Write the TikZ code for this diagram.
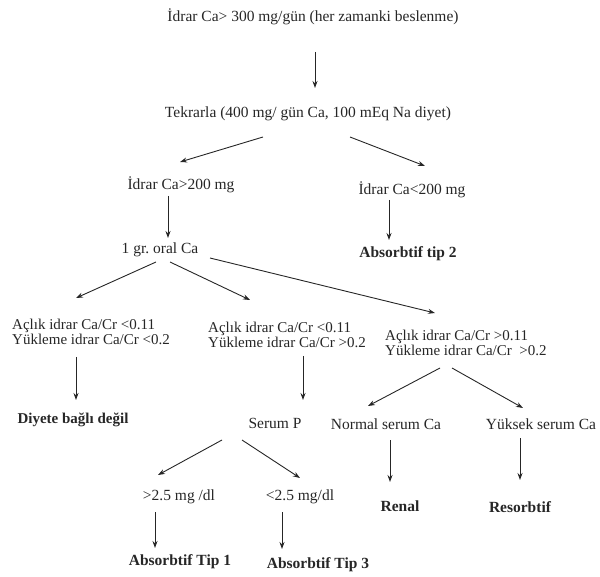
\documentclass[tikz,border=0pt]{standalone}
\usepackage{fontspec}
\setmainfont{Liberation Serif}
\usetikzlibrary{arrows.meta}
\begin{document}
\begin{tikzpicture}[x=1pt,y=-1pt,
  txt/.style={inner sep=0pt,font=\fontsize{15.5}{15.5}\selectfont,text=black!85},
  btxt/.style={txt,font=\fontsize{15.5}{15.5}\selectfont\bfseries},
  blk/.style={txt,align=left,anchor=west,font=\fontsize{15}{15.5}\selectfont},
  arr/.style={draw=black!85,line width=0.9pt,-{Stealth[length=7pt,width=5pt]}}]
\useasboundingbox (0,0) rectangle (600,577);
\node[txt] (top) at (313,17) {İdrar Ca> 300 mg/gün (her zamanki beslenme)};
\node[txt] (tek) at (308,114) {Tekrarla (400 mg/ gün Ca, 100 mEq Na diyet)};
\node[txt] (i200) at (181,185) {İdrar Ca>200 mg};
\node[txt] (i200b) at (412,190) {İdrar Ca<200 mg};
\node[txt] (oral) at (160,250) {1 gr.\ oral Ca};
\node[btxt] (abs2) at (408,254) {Absorbtif tip 2};
\node[blk] (bL) at (12,332) {Açlık idrar Ca/Cr <0.11\\Yükleme idrar Ca/Cr <0.2};
\node[blk] (bM) at (208,335) {Açlık idrar Ca/Cr <0.11\\Yükleme idrar Ca/Cr >0.2};
\node[blk] (bR) at (385,343) {Açlık idrar Ca/Cr >0.11\\Yükleme idrar Ca/Cr \ >0.2};
\node[btxt,font=\fontsize{15}{15}\selectfont\bfseries] (diy) at (73,420) {Diyete bağlı değil};
\node[txt] (serP) at (275,423) {Serum P};
\node[txt] (normal) at (386,424) {Normal serum Ca};
\node[txt] (yuk) at (541,424) {Yüksek serum Ca};
\node[btxt] (renal) at (400,506) {Renal};
\node[btxt] (resorb) at (520,507) {Resorbtif};
\node[txt] (gt) at (179,497) {>2.5 mg /dl};
\node[txt] (lt) at (300,497) {<2.5 mg/dl};
\node[btxt] (abs1) at (180,562) {Absorbtif Tip 1};
\node[btxt] (abs3) at (318,565) {Absorbtif Tip 3};

\draw[arr] ([shift={(2,35)}]top.center) -- ([shift={(7,-26)}]tek.center);
\draw[arr] ([shift={(-45,23)}]tek.center) -- ([shift={(-1,-23)}]i200.center);
\draw[arr] ([shift={(42,23)}]tek.center) -- ([shift={(13,-24)}]i200b.center);
\draw[arr] ([shift={(-13,11)}]i200.center) -- ([shift={(8,-12)}]oral.center);
\draw[arr] ([shift={(-23,10)}]i200b.center) -- ([shift={(-19,-14)}]abs2.center);
\draw[arr] ([shift={(-4,12)}]oral.center) -- ([shift={(64,-34)}]bL.west);
\draw[arr] ([shift={(10,12)}]oral.center) -- ([shift={(42,-35)}]bM.west);
\draw[arr] ([shift={(50,8)}]oral.center) -- ([shift={(50,-30)}]bR.west);
\draw[arr] ([shift={(64,25)}]bL.west) -- ([shift={(3,-20)}]diy.center);
\draw[arr] ([shift={(95,21)}]bM.west) -- ([shift={(28,-23)}]serP.center);
\draw[arr] ([shift={(55,25)}]bR.west) -- ([shift={(-18,-18)}]normal.center);
\draw[arr] ([shift={(67,25)}]bR.west) -- ([shift={(-18,-16)}]yuk.center);
\draw[arr] ([shift={(4,16)}]normal.center) -- ([shift={(-10,-24)}]renal.center);
\draw[arr] ([shift={(-21,14)}]yuk.center) -- ([shift={(0,-27)}]resorb.center);
\draw[arr] ([shift={(-53,17)}]serP.center) -- ([shift={(-21,-22)}]gt.center);
\draw[arr] ([shift={(-33,17)}]serP.center) -- ([shift={(0,-19)}]lt.center);
\draw[arr] ([shift={(-24,15)}]gt.center) -- ([shift={(-25,-14)}]abs1.center);
\draw[arr] ([shift={(-18,15)}]lt.center) -- ([shift={(-36,-16)}]abs3.center);
\end{tikzpicture}
\end{document}
